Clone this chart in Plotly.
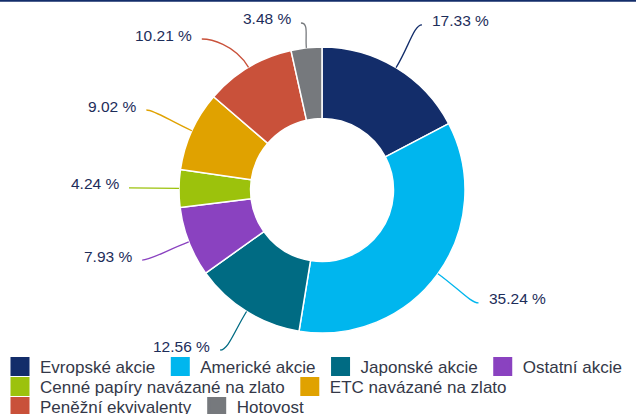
import math
import plotly.graph_objects as go

# Portfolio allocation (%)
categories = [
    "Evropské akcie",
    "Americké akcie",
    "Japonské akcie",
    "Ostatní akcie",
    "Cenné papíry navázané na zlato",
    "ETC navázané na zlato",
    "Peněžní ekvivalenty",
    "Hotovost",
]
shares = [17.33, 35.24, 12.56, 7.93, 4.24, 9.02, 10.21, 3.48]
colors = ["#132d6a", "#00b6ee", "#006b83", "#8a42c0", "#9cc20c", "#e0a200", "#c9513a", "#76797d"]
# legend row for each category (rows flow left to right)
legend_rows = ["legend", "legend", "legend", "legend", "legend2", "legend2", "legend3", "legend3"]

W, H = 636, 414
CX, CY, R = 322, 190, 143          # donut centre / outer radius (px)
LABEL_DIST = 50                      # label ring distance beyond the slice edge
TOP_LIMIT, BOTTOM_LIMIT, ROW_GAP = 23, 350, 16
TEXT_COLOR = "#1d2d5a"
FONT = "Arial, Liberation Sans, sans-serif"
LEGEND_TOP, LEGEND_ROW = 349, 20


def px(x, y):
    """pixel -> paper coordinates"""
    return x / W, 1 - y / H


fig = go.Figure()
fig.add_trace(go.Pie(
    labels=categories, values=shares, sort=False, direction="clockwise", rotation=0,
    hole=0.5, textinfo="none", showlegend=False,
    marker=dict(colors=colors, line=dict(color="white", width=1.5)),
    domain=dict(x=[(CX - R) / W, (CX + R) / W], y=[1 - (CY + R) / H, 1 - (CY - R) / H]),
    hovertemplate="%{label}: %{value:.2f} %<extra></extra>",
))

# legend entries (square swatches)
for name, c, lg in zip(categories, colors, legend_rows):
    fig.add_trace(go.Scatter(
        x=[None], y=[None], mode="markers", name=name, hoverinfo="skip", legend=lg,
        marker=dict(symbol="square", size=16, color=c, line=dict(color=c, width=3)),
    ))

# ---- outside labels with connectors ----
total = sum(shares)
RL = R + LABEL_DIST
items = []
cum = 0.0
for i, v in enumerate(shares):
    mid = (cum + v / 2) / total * 2 * math.pi
    cum += v
    s, c = math.sin(mid), math.cos(mid)
    items.append(dict(i=i, s=s, c=c, nx=CX + RL * s, ny=CY - RL * c,
                      side=1 if s >= 0 else -1))

for side in (1, -1):
    group = sorted([it for it in items if it["side"] == side], key=lambda it: it["ny"])
    prev = None
    for it in group:
        y = it["ny"]
        it["clamped"] = False
        it["pushed"] = False
        if y < TOP_LIMIT:
            y = TOP_LIMIT
            it["clamped"] = True
        if prev is not None and y < prev + ROW_GAP:
            y = prev + ROW_GAP
            it["pushed"] = True
        if y > BOTTOM_LIMIT:
            y = BOTTOM_LIMIT
            it["clamped"] = True
        it["y"] = y
        prev = y
    for it in group:
        if it["pushed"] and not it["clamped"]:
            dy = it["y"] - CY
            it["x"] = CX + side * math.sqrt(max(RL * RL - dy * dy, 0))
        else:
            it["x"] = it["nx"]

shapes = []
annotations = []
for it in items:
    i = it["i"]
    tx, ty = CX + R * it["s"], CY - R * it["c"]
    ax, ay = it["x"], it["y"]
    d = math.hypot(ax - tx, ay - ty)
    k = 0.5 * d
    c1 = (tx + it["s"] * k, ty - it["c"] * k)
    c2 = (ax - it["side"] * 8, ay)
    pts = [px(tx, ty), px(*c1), px(*c2), px(ax, ay)]
    path = "M{:.5f},{:.5f} C{:.5f},{:.5f} {:.5f},{:.5f} {:.5f},{:.5f}".format(
        *pts[0], *pts[1], *pts[2], *pts[3])
    shapes.append(dict(type="path", path=path, xref="paper", yref="paper",
                       line=dict(color=colors[i], width=1.3)))
    lx, ly = px(ax + it["side"] * 8, ay - 4)
    annotations.append(dict(
        x=lx, y=ly, xref="paper", yref="paper", showarrow=False,
        text=f"{shares[i]:.2f} %", xanchor="left" if it["side"] > 0 else "right",
        yanchor="middle", font=dict(size=15.5, color=TEXT_COLOR, family=FONT),
    ))

# thin rule along the top edge
shapes.append(dict(type="line", xref="paper", yref="paper", x0=0, x1=1,
                   y0=1 - 0.8 / H, y1=1 - 0.8 / H, line=dict(color="#132d6a", width=2)))


def legend_row(n):
    return dict(
        orientation="h", x=0, xanchor="left",
        y=1 - (LEGEND_TOP + n * LEGEND_ROW) / H, yanchor="top",
        font=dict(size=17, color="#343848", family=FONT),
        bgcolor="rgba(0,0,0,0)", itemclick=False, itemdoubleclick=False,
    )


fig.update_layout(
    width=W, height=H,
    margin=dict(l=0, r=0, t=0, b=0, autoexpand=False),
    paper_bgcolor="white", plot_bgcolor="white",
    xaxis=dict(visible=False), yaxis=dict(visible=False),
    shapes=shapes, annotations=annotations,
    font=dict(family=FONT),
    legend=legend_row(0), legend2=legend_row(1), legend3=legend_row(2),
)

fig.write_html("out.html")
